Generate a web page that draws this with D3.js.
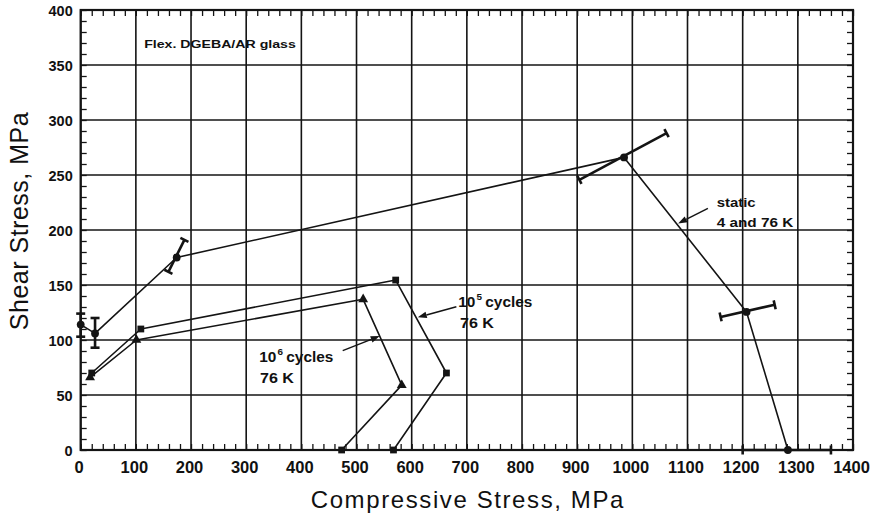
<!DOCTYPE html>
<html>
<head>
<meta charset="utf-8">
<script src="https://cdn.jsdelivr.net/npm/d3@7"></script>
<style>
  body { margin: 0; background: #fff; }
  text { font-family: "Liberation Sans", Arial, Helvetica, sans-serif; fill: #111; }
</style>
</head>
<body>
<svg id="chart" width="876" height="517"></svg>
<script>
// Axis ticks
const xTickValues = [0, 100, 200, 300, 400, 500, 600, 700, 800, 900, 1000, 1100, 1200, 1300, 1400];
const yTickValues = [0, 50, 100, 150, 200, 250, 300, 350, 400];

// Static failure envelope, 4 and 76 K (circles)
const staticX = [0, 26, 174, 985, 1207, 1282];
const staticY = [114, 106, 175, 266, 125.5, 0];
// Scatter band ends for each static point (low end / high end)
const staticErrLoX = [0, 26, 159, 904, 1160, 1200];
const staticErrLoY = [103, 93, 162, 245.5, 121, 0];
const staticErrHiX = [0, 26, 188, 1062, 1258, 1360];
const staticErrHiY = [124, 120, 191, 288, 132, 0];

// 10^5 cycles, 76 K (squares)
const cyc5X = [20, 109, 571, 663, 567];
const cyc5Y = [70, 110, 154.5, 70, 0];
const cyc5Marks = ["square", "square", "square", "square", "square"];

// 10^6 cycles, 76 K (triangles)
const cyc6X = [17, 101, 512, 582, 473];
const cyc6Y = [66, 100, 137, 59, 0];
const cyc6Marks = ["triangle", "triangle", "triangle", "triangle", "square"];

const svg = d3.select("#chart");
const x = d3.scaleLinear().domain([0, 1400]).range([80.7, 853]);
const y = d3.scaleLinear().domain([0, 400]).range([450, 10]);
const ink = "#141414";

// Grid
const grid = svg.append("g");
grid.selectAll("line.vx").data(xTickValues).join("line")
  .attr("x1", d => x(d)).attr("x2", d => x(d))
  .attr("y1", y(0)).attr("y2", y(400))
  .attr("stroke", ink).attr("stroke-width", 1.6);
grid.selectAll("line.hy").data(yTickValues).join("line")
  .attr("y1", d => y(d)).attr("y2", d => y(d))
  .attr("x1", x(0)).attr("x2", x(1400))
  .attr("stroke", ink).attr("stroke-width", 1.6);

// Minor ticks pointing inward on all four sides
const xMinor = d3.range(0, 1401, 20);
const yMinor = d3.range(0, 401, 10);
function minorAxis(axis, transform) {
  const g = svg.append("g").attr("transform", transform).call(axis);
  g.select(".domain").remove();
  g.selectAll("text").remove();
  g.selectAll("line").attr("stroke", ink).attr("stroke-width", 1.3);
}
minorAxis(d3.axisBottom(x).tickValues(xMinor).tickSize(-6), `translate(0,${y(0)})`);
minorAxis(d3.axisTop(x).tickValues(xMinor).tickSize(-6), `translate(0,${y(400)})`);
minorAxis(d3.axisLeft(y).tickValues(yMinor).tickSize(-6), `translate(${x(0)},0)`);
minorAxis(d3.axisRight(y).tickValues(yMinor).tickSize(-6), `translate(${x(1400)},0)`);

// Frame
svg.append("rect")
  .attr("x", x(0)).attr("y", y(400))
  .attr("width", x(1400) - x(0)).attr("height", y(0) - y(400))
  .attr("fill", "none").attr("stroke", ink).attr("stroke-width", 2.2);

// Tick labels
const xLab = svg.append("g").attr("transform", `translate(0,${y(0)})`)
  .call(d3.axisBottom(x).tickValues(xTickValues).tickSize(0).tickPadding(11).tickFormat(d3.format("d")));
xLab.select(".domain").remove();
xLab.selectAll("text")
  .style("font-family", '"Liberation Sans", Arial, sans-serif')
  .style("font-size", "16.5px").style("font-weight", "bold")
  .attr("fill", ink).attr("dx", "-2");

const yLab = svg.append("g").attr("transform", `translate(${x(0)},0)`)
  .call(d3.axisLeft(y).tickValues(yTickValues).tickSize(0).tickPadding(8).tickFormat(d3.format("d")));
yLab.select(".domain").remove();
yLab.selectAll("text")
  .style("font-family", '"Liberation Sans", Arial, sans-serif')
  .style("font-size", "14.5px").style("font-weight", "bold")
  .attr("fill", ink).attr("dy", "0.4em");

// Axis titles
svg.append("text")
  .attr("transform", `translate(${(x(0) + x(1400)) / 2 + 1},508)`)
  .attr("text-anchor", "middle")
  .style("font-size", "24px").style("letter-spacing", "1.6px")
  .text("Compressive Stress, MPa");
svg.append("text")
  .attr("transform", `translate(28,221) rotate(-90)`)
  .attr("text-anchor", "middle")
  .style("font-size", "25px").style("letter-spacing", "0.5px")
  .text("Shear Stress, MPa");

// Data lines
const line = d3.line().x(d => x(d[0])).y(d => y(d[1]));
function series(xs, ys) { return xs.map((v, i) => [v, ys[i]]); }
const plot = svg.append("g");
[series(staticX, staticY), series(cyc5X, cyc5Y), series(cyc6X, cyc6Y)].forEach(pts => {
  plot.append("path").attr("d", line(pts))
    .attr("fill", "none").attr("stroke", ink).attr("stroke-width", 1.6)
    .attr("stroke-linejoin", "round");
});

// Scatter bands with end caps
function band(x1, y1, x2, y2) {
  const a = [x(x1), y(y1)], b = [x(x2), y(y2)];
  const dx = b[0] - a[0], dy = b[1] - a[1], len = Math.hypot(dx, dy);
  const px = -dy / len * 4.5, py = dx / len * 4.5;
  const g = plot.append("g").attr("stroke", ink).attr("stroke-width", 2.6).attr("stroke-linecap", "butt");
  g.append("line").attr("x1", a[0]).attr("y1", a[1]).attr("x2", b[0]).attr("y2", b[1]);
  [a, b].forEach(p => g.append("line")
    .attr("x1", p[0] - px).attr("y1", p[1] - py).attr("x2", p[0] + px).attr("y2", p[1] + py));
}
staticX.forEach((_, i) => band(staticErrLoX[i], staticErrLoY[i], staticErrHiX[i], staticErrHiY[i]));

// Markers
const shapes = { circle: d3.symbolCircle, square: d3.symbolSquare, triangle: d3.symbolTriangle };
const sizes = { circle: 48, square: 46, triangle: 42 };
function markers(xs, ys, kinds) {
  xs.forEach((v, i) => {
    plot.append("path")
      .attr("d", d3.symbol().type(shapes[kinds[i]]).size(sizes[kinds[i]])())
      .attr("transform", `translate(${x(v)},${y(ys[i])})`)
      .attr("fill", ink);
  });
}
markers(staticX, staticY, staticX.map(() => "circle"));
markers(cyc5X, cyc5Y, cyc5Marks);
markers(cyc6X, cyc6Y, cyc6Marks);

// Leader arrows
function arrow(fx, fy, tx, ty) {
  const a = [x(fx), y(fy)], b = [x(tx), y(ty)];
  const dx = b[0] - a[0], dy = b[1] - a[1], len = Math.hypot(dx, dy);
  const ux = dx / len, uy = dy / len, hl = 9, hw = 3.3;
  const base = [b[0] - ux * hl, b[1] - uy * hl];
  plot.append("line").attr("x1", a[0]).attr("y1", a[1]).attr("x2", base[0]).attr("y2", base[1])
    .attr("stroke", ink).attr("stroke-width", 1.5);
  plot.append("path")
    .attr("d", `M${b[0]},${b[1]}L${base[0] - uy * hw},${base[1] + ux * hw}L${base[0] + uy * hw},${base[1] - ux * hw}Z`)
    .attr("fill", ink);
}
arrow(1137, 219.7, 1083, 206);
arrow(681, 130.3, 611, 120.6);
arrow(475, 90.3, 542, 103.6);

// Annotation labels
function label(dx, dy, str, size, sx) {
  return svg.append("text")
    .attr("transform", `translate(${x(dx)},${y(dy)}) scale(${sx},1)`)
    .style("font-size", size + "px").style("font-weight", "bold")
    .text(str);
}
label(115, 365.7, "Flex. DGEBA/AR glass", 11.8, 1.2);
label(1152.8, 221.2, "static", 13, 1.15);
label(1152.8, 203, "4 and 76 K", 13, 1.18);

function cyclesLabel(dx, dy, exp) {
  const t = svg.append("text")
    .attr("transform", `translate(${x(dx)},${y(dy)}) scale(1.1,1)`)
    .style("font-size", "14px").style("font-weight", "bold");
  t.append("tspan").text("10");
  t.append("tspan").attr("dy", -7).attr("dx", 1).style("font-size", "9px").text(exp);
  t.append("tspan").attr("dy", 7).attr("dx", 3).text("cycles");
}
cyclesLabel(684.4, 130.3, "5");
label(687.5, 110.6, "76 K", 14, 1.15);
cyclesLabel(323.7, 80.3, "6");
label(325, 60.6, "76 K", 14, 1.15);
</script>
</body>
</html>
